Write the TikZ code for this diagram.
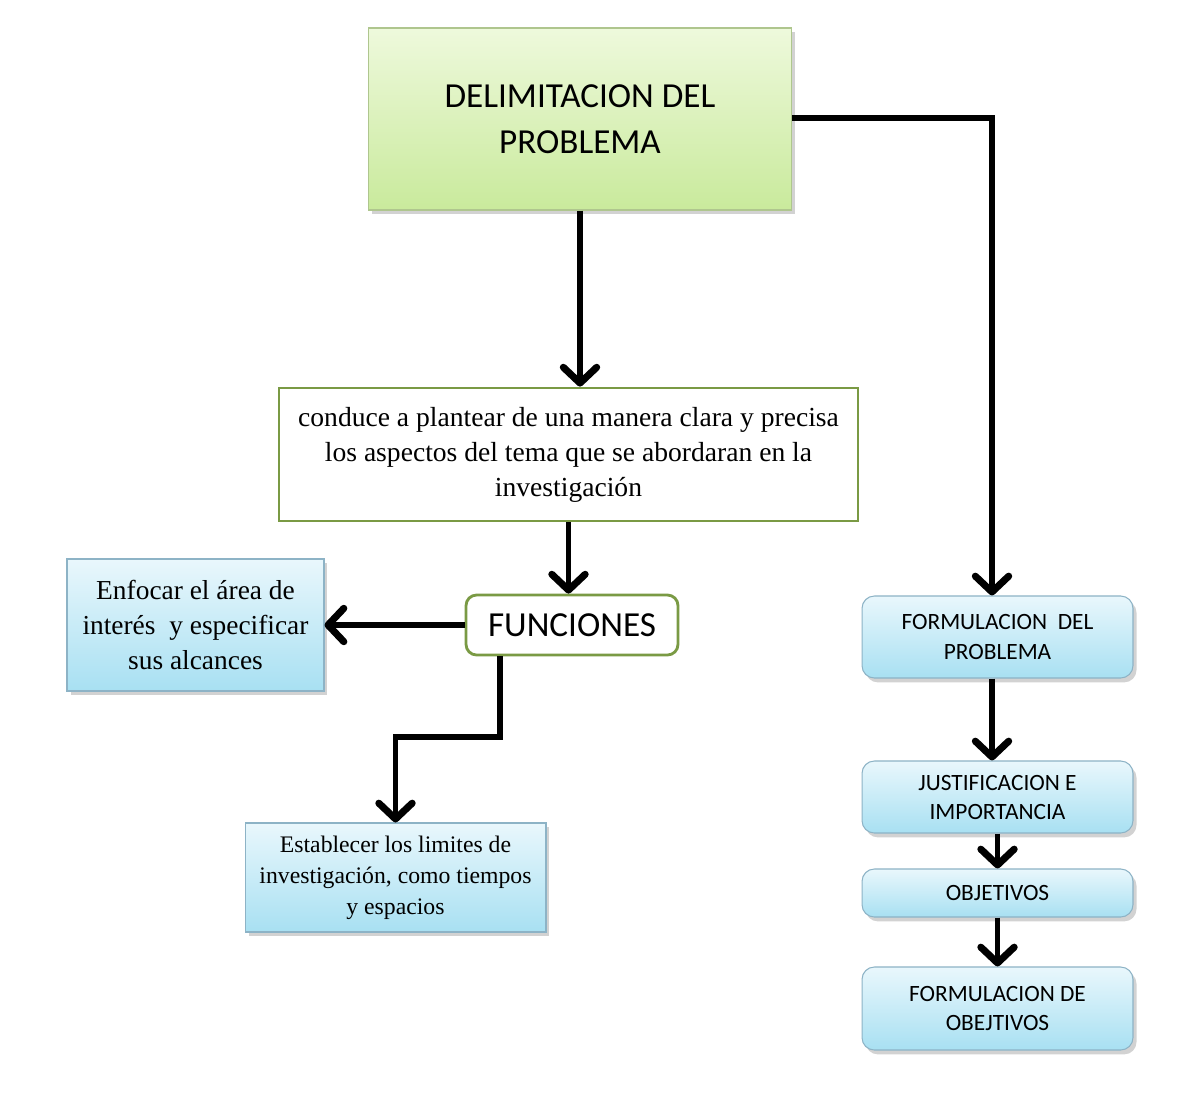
\documentclass[tikz,border=0pt]{standalone}
\usepackage{fontspec}
\setmainfont{Liberation Serif}
\newfontfamily\calfont{Carlito}
\usetikzlibrary{arrows.meta,shadows,calc}
\definecolor{gtop}{HTML}{EEF9DC}
\definecolor{gbot}{HTML}{C9EA9C}
\definecolor{gborder}{HTML}{AFC68E}
\definecolor{greenline}{HTML}{7A9A44}
\definecolor{btop}{HTML}{E9F7FC}
\definecolor{bbot}{HTML}{A8E0F2}
\definecolor{bborder}{HTML}{8DB3C6}
\tikzset{
  shad/.style={drop shadow={opacity=0.35,shadow xshift=2pt,shadow yshift=-2.5pt}},
  topbox/.style={draw=gborder,line width=0.6pt,top color=gtop,bottom color=gbot,shad,
    align=center,font=\calfont\fontsize{20}{26}\selectfont,inner sep=0pt},
  whitebox/.style={draw=greenline,line width=1.6pt,fill=white,align=center,inner sep=0pt},
  bluebox/.style={draw=bborder,line width=0.6pt,top color=btop,bottom color=bbot,shad,
    align=center,inner sep=0pt},
  rbox/.style={bluebox,rounded corners=7pt,minimum width=5.42cm,
    font=\calfont\fontsize{13.3}{17}\selectfont},
  arr/.style={line width=3.2pt,
    -{Straight Barb[length=9pt,width=19pt,line width=4pt,line cap=round,line join=round]}},
}
\begin{document}
\begin{tikzpicture}[x=0.02cm,y=-0.02cm]
\useasboundingbox (0,0) rectangle (1199,1099);
\fill[white] (0,0) rectangle (1199,1099);

\node[topbox,minimum width=8.48cm,minimum height=3.64cm] (top) at (580,119)
  {DELIMITACION DEL\\PROBLEMA};
\node[whitebox,minimum width=11.58cm,minimum height=2.66cm,
  font=\fontsize{15.7}{19.9}\selectfont] (mid) at (568.5,454.5)
  {conduce a plantear de una manera clara y precisa\\los aspectos del tema que se abordaran en la\\investigación};
\node[whitebox,rounded corners=6pt,minimum width=4.24cm,minimum height=1.2cm,
  font=\calfont\fontsize{20}{24}\selectfont] (fun) at (572,625) {FUNCIONES};
\node[bluebox,minimum width=5.14cm,minimum height=2.64cm,
  font=\fontsize{15.6}{19.9}\selectfont] (enf) at (195.5,625)
  {Enfocar el área de\\interés\ \ y especificar\\sus alcances};
\node[bluebox,minimum width=6.02cm,minimum height=2.18cm,
  font=\fontsize{13.5}{17.6}\selectfont] (est) at (395.5,877.5)
  {Establecer los limites de\\investigación, como tiempos\\y espacios};

\node[rbox,minimum height=1.64cm] (form) at (997.5,637) {FORMULACION\ \ DEL\\PROBLEMA};
\node[rbox,minimum height=1.44cm,font=\calfont\fontsize{13.3}{16.5}\selectfont] (just) at (997.5,797) {JUSTIFICACION E\\IMPORTANCIA};
\node[rbox,minimum height=0.96cm] (obj) at (997.5,893) {OBJETIVOS};
\node[rbox,minimum height=1.66cm] (fobj) at (997.5,1008.5) {FORMULACION DE\\OBEJTIVOS};

\coordinate (k1) at (500,737);
\coordinate (k2) at (992,118);

\draw[arr] (top.south) -- (top.south |- mid.north);
\draw[arr] (top.east |- k2) -- (k2) -- (k2 |- form.north);
\draw[arr] (mid.south) -- (mid.south |- fun.north);
\draw[arr] (fun.west) -- (enf.east);
\draw[arr] (fun.south -| k1) -- (k1) -| (est.north);
\draw[arr] (form.south -| k2) -- (k2 |- just.north);
\draw[arr] (just.south) -- (obj.north);
\draw[arr] (obj.south) -- (fobj.north);
\end{tikzpicture}
\end{document}
